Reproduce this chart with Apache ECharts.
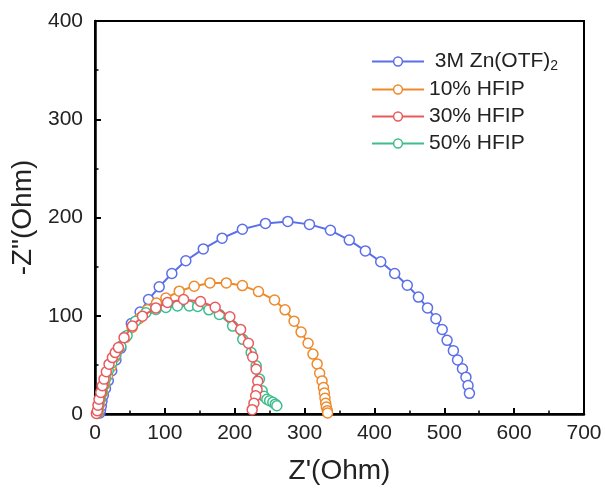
<!DOCTYPE html>
<html><head><meta charset="utf-8">
<script src="https://cdn.jsdelivr.net/npm/echarts@6/dist/echarts.min.js"></script>
<style>html,body{margin:0;padding:0;background:#fff}#c{width:605px;height:491px}</style>
</head><body><div id="c"></div>
<script>
const seriesNames = ['3M Zn(OTF)2', '10% HFIP', '30% HFIP', '50% HFIP'];
const xTicks = [0, 100, 200, 300, 400, 500, 600, 700];
const yTicks = [0, 100, 200, 300, 400];

const blueX = [7,8,9,10,12,15,19,24,30,37,44,52,64.6,76.6,91.9,110,130,155,182,211,244,276,307,337,364,387,409,429,447,463,476,488,497,504,513,519,526,531,534,536];
const blueY = [1,4,8,13,19,26,34,44,55,67,79,92,103.7,116.5,129.4,143,156,168,179,188,194,196,193,187,177,166,155,143,131,119,108,97,86,75,64.5,55,46,37.5,29,21];

const orangeX = [4,5,6,8,11,14,18,23,29,36,44,53,63,75,88,101.5,120.6,142,164.6,188,211,234,257,272,285,295,305,312,318,321.6,325,327,328.3,329.2,330.2,331.2,332.6,333];
const orangeY = [1,4,9,15,22,30,39,48,58,68,78,88,97,106,113,118,125,130,133.4,133.4,130.7,124.6,116,106,94.5,83.4,72,61,51,41.5,33.7,27,21.3,16,11,7,3.4,1];

const redX = [2,3.3,4.3,5.7,8.2,10.5,12.9,16.2,20.1,24.9,29,33.5,41.6,53.5,67.9,87.1,103.8,126.8,151,172,193,208.5,219.6,225.8,230.7,233,232,230,227.5,225];
const redY = [0.5,3.3,9,15,22,28.7,35.5,43,50.7,57.4,62.5,67.6,77.7,89.5,99.6,108,113.5,116.5,114.5,108.7,99,86,72,58,45.6,33.4,25,18.5,11,4.4];

const greenX = [3,4,5,7,9.5,12,15,19,24,30,37,46,58,72.8,87.1,101.5,118,135,147,163,178,197,211.5,223.5,230.7,235.4,239.3,242,246,250,254.5,258,260.3];
const greenY = [0.5,4,9,15,22,29,36,44,52,60,69,80,94.5,103,106.4,108.5,110,110,109.5,106,101.3,89.5,76,62.5,49,35.5,23.6,18,15,13.5,11.9,10,8.4];

const colors = ['#5B6FE8', '#EE8A2C', '#E95A5C', '#3DBE8C'];

function pairs(xs, ys) { return xs.map((x, i) => [x, ys[i]]); }

const chart = echarts.init(document.getElementById('c'));
const fontFam = 'Liberation Sans, Arial, sans-serif';
function mk(i, xs, ys, z) {
  return {
    name: seriesNames[i], type: 'line', data: pairs(xs, ys),
    symbol: 'circle', symbolSize: 10, z: z,
    lineStyle: { color: colors[i], width: 2 },
    itemStyle: { color: '#fff', borderColor: colors[i], borderWidth: 1.5 },
    emphasis: { disabled: true }, animation: false
  };
}
chart.setOption({
  animation: false,
  color: colors,
  grid: { left: 95, right: 21, top: 21, bottom: 77, show: true, borderColor: '#000', borderWidth: 2 },
  legend: {
    orient: 'vertical', left: 366, top: 46,
    itemWidth: 52, itemHeight: 11, itemGap: 6,
    data: seriesNames.map((n, i) => ({ name: n, itemStyle: { color: '#fff', borderColor: colors[i], borderWidth: 1.5 }, lineStyle: { color: colors[i], width: 2 } })),
    formatter: function (n) { return n === seriesNames[0] ? '{a| 3M Zn(OTF)}{s|2}' : '{a|' + n + '}'; },
    textStyle: {
      fontFamily: fontFam, color: '#222', fontSize: 21,
      rich: {
        a: { fontFamily: fontFam, fontSize: 21, color: '#222', lineHeight: 21 },
        s: { fontFamily: fontFam, fontSize: 14, color: '#222', padding: [9, 0, 0, 0], verticalAlign: 'bottom' }
      }
    }
  },
  xAxis: [{
    type: 'value', min: xTicks[0], max: xTicks[xTicks.length - 1], interval: 100,
    name: "Z'(Ohm)", nameLocation: 'middle', nameGap: 43,
    nameTextStyle: { fontFamily: fontFam, fontSize: 28, color: '#222' },
    axisLine: { show: true, onZero: false, lineStyle: { color: '#000', width: 2.5 } },
    axisTick: { show: true, inside: true, length: 6, lineStyle: { color: '#000', width: 2 } },
    minorTick: { show: true, splitNumber: 2, length: 3.5, lineStyle: { color: '#000', width: 1.5 } },
    axisLabel: { fontFamily: fontFam, fontSize: 21, color: '#222', margin: 9 },
    splitLine: { show: false }
  }],
  yAxis: [{
    type: 'value', min: yTicks[0], max: yTicks[yTicks.length - 1], interval: 100,
    name: '-Z"(Ohm)', nameLocation: 'middle', nameGap: 50,
    nameTextStyle: { fontFamily: fontFam, fontSize: 28, color: '#222' },
    axisLine: { show: true, onZero: false, lineStyle: { color: '#000', width: 2.5 } },
    axisTick: { show: true, inside: true, length: 6, lineStyle: { color: '#000', width: 2 } },
    minorTick: { show: true, splitNumber: 2, length: 3.5, lineStyle: { color: '#000', width: 1.5 } },
    axisLabel: { fontFamily: fontFam, fontSize: 21, color: '#222', margin: 12 },
    splitLine: { show: false }
  }],
  series: [
    mk(0, blueX, blueY, 2),
    mk(1, orangeX, orangeY, 3),
    mk(3, greenX, greenY, 4),
    mk(2, redX, redY, 5)
  ]
});
</script></body></html>
